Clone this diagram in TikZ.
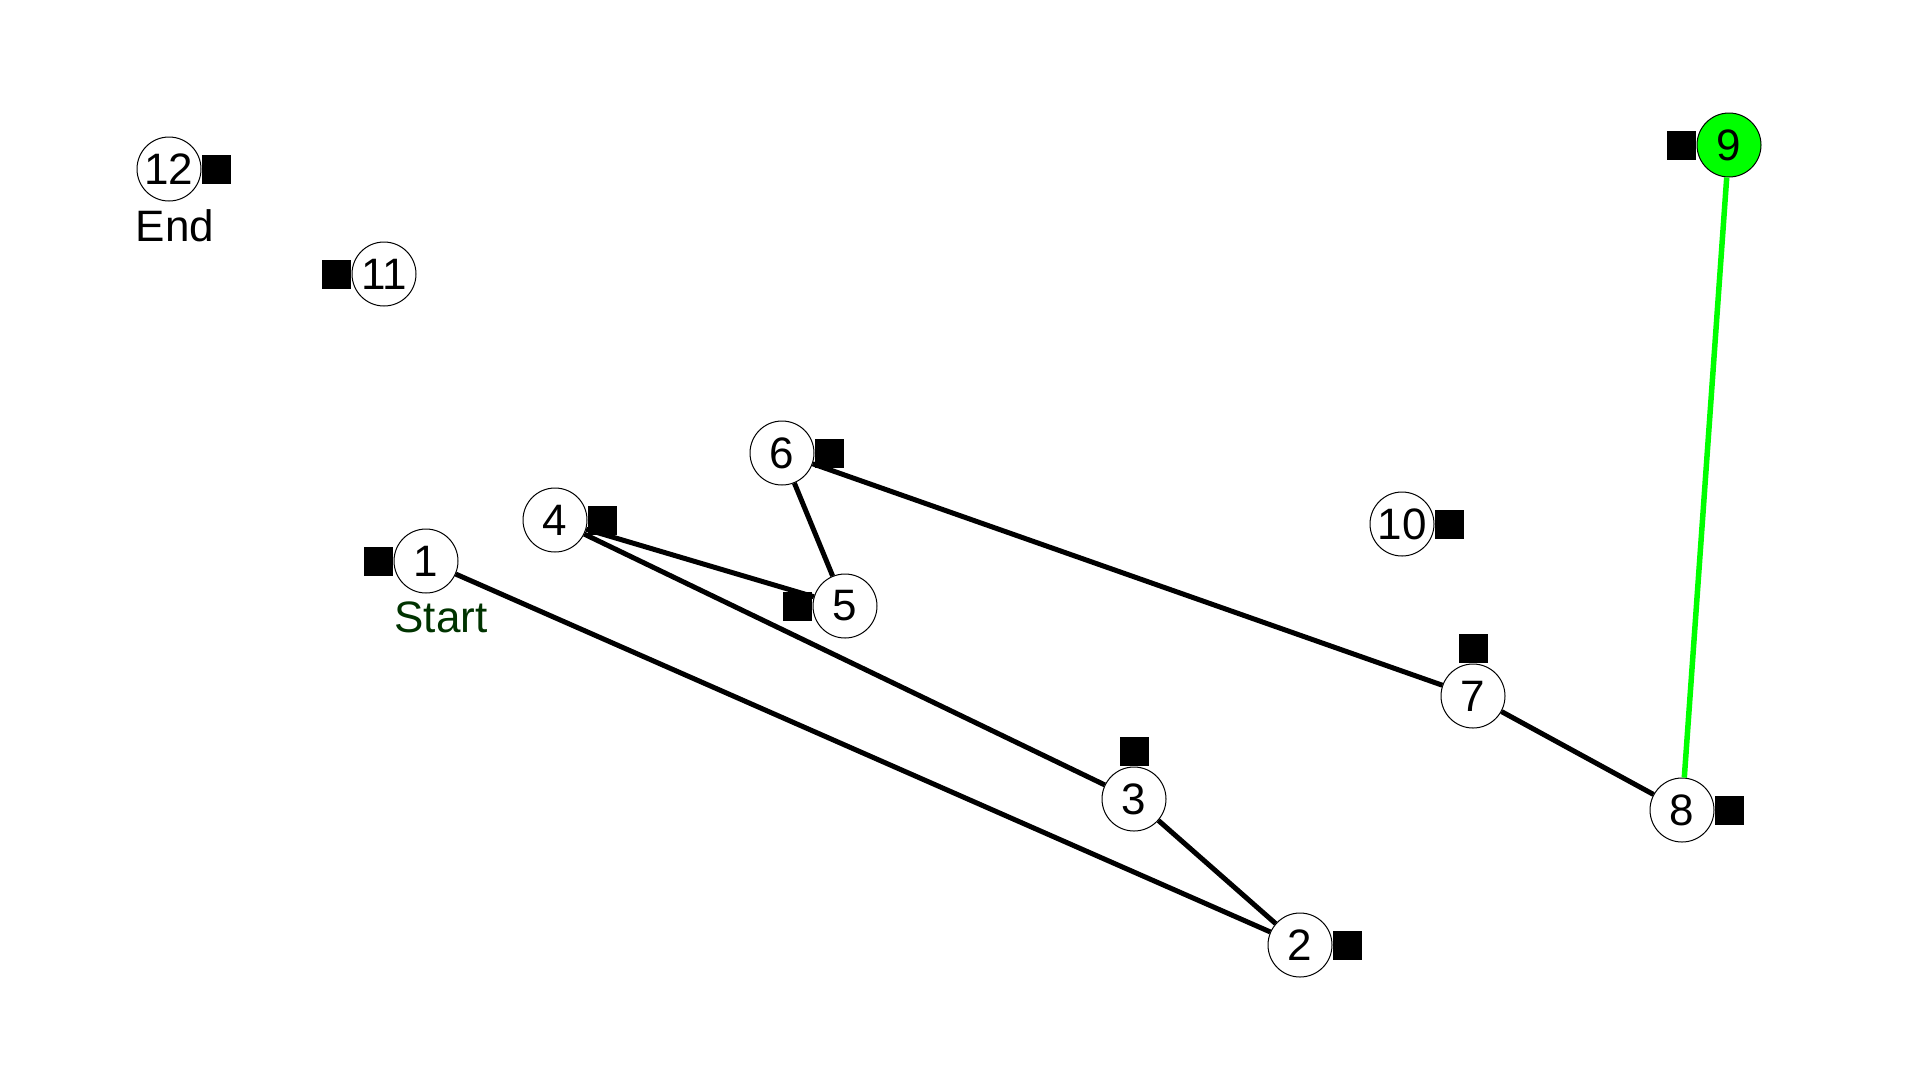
\documentclass[tikz,border=0pt]{standalone}
\usepackage{fontspec}
\setmainfont{Liberation Sans}
\usetikzlibrary{positioning}
\definecolor{brightgreen}{RGB}{0,255,0}
\definecolor{startgreen}{RGB}{0,51,0}
\begin{document}
\begin{tikzpicture}[x=1pt,y=-1pt]
  \tikzstyle{every node}=[font=\fontsize{44}{44}\selectfont]
  \tikzstyle{stop}=[circle,draw,fill=white,line width=1pt,minimum size=64pt,inner sep=0pt]
  \tikzstyle{marker}=[rectangle,fill=black,minimum size=29pt,inner sep=0pt]
  \tikzstyle{leg}=[line width=5pt]
  \useasboundingbox (0,0) rectangle (1920,1080);
  \node[stop] (n1) at (426,561) {1};
  \node[stop] (n2) at (1300,945) {2};
  \node[stop] (n3) at (1134,799) {3};
  \node[stop] (n4) at (555,520) {4};
  \node[stop] (n5) at (845,606) {5};
  \node[stop] (n6) at (782,453) {6};
  \node[stop] (n7) at (1473,696) {7};
  \node[stop] (n8) at (1682,810) {8};
  \node[stop,fill=brightgreen] (n9) at (1729,145) {9};
  \node[stop] (n10) at (1402,524) {10};
  \node[stop] (n11) at (384,274) {11};
  \node[stop] (n12) at (169,169) {12};
  \node[marker,left=0pt of n1] (m1) {};
  \node[marker,right=0pt of n2] (m2) {};
  \node[marker,above=0pt of n3] (m3) {};
  \node[marker,right=0pt of n4] (m4) {};
  \node[marker,left=0pt of n5] (m5) {};
  \node[marker,right=0pt of n6] (m6) {};
  \node[marker,above=0pt of n7] (m7) {};
  \node[marker,right=0pt of n8] (m8) {};
  \node[marker,left=0pt of n9] (m9) {};
  \node[marker,right=0pt of n10] (m10) {};
  \node[marker,left=0pt of n11] (m11) {};
  \node[marker,right=0pt of n12] (m12) {};
  \node[text=startgreen] (start) at (441,617) {Start};
  \node (end) at (175,226) {End};
  \draw[leg] (n1) -- (n2);
  \draw[leg] (n2) -- (n3);
  \draw[leg] (n3) -- (n4);
  \draw[leg] (n4) -- (n5);
  \draw[leg] (n5) -- (n6);
  \draw[leg] (n6) -- (n7);
  \draw[leg] (n7) -- (n8);
  \draw[leg,brightgreen,line width=5.5pt] (n8) -- (n9);
\end{tikzpicture}
\end{document}
